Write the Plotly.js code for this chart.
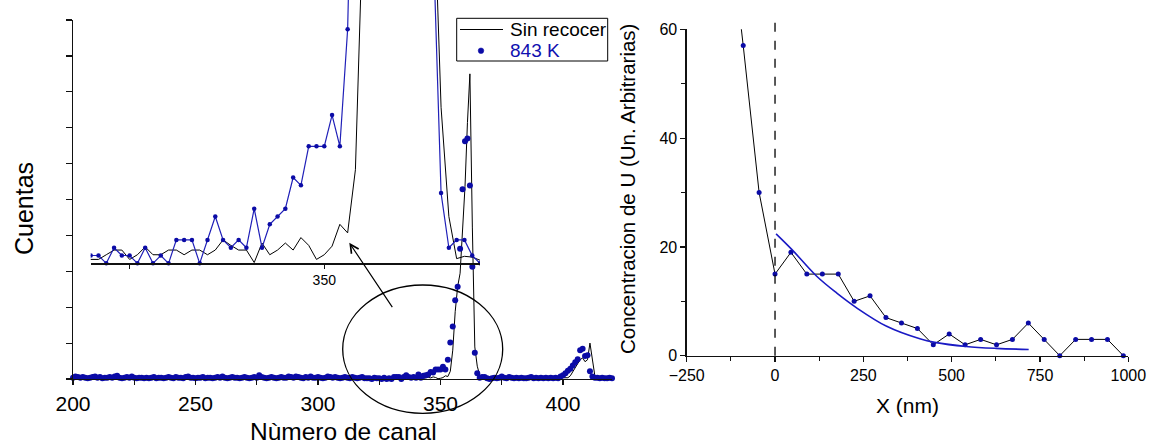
<!DOCTYPE html>
<html><head><meta charset="utf-8">
<script src="https://cdn.plot.ly/plotly-3.0.1.min.js"></script>
<style>body{margin:0;background:#fff}#chart{width:1153px;height:446px}</style>
</head><body><div id="chart"></div>
<script>
// ---------- DATA ----------
// channel numbers 200..420 (one value per channel)
const channelFirst = 200, channelLast = 420;
// 843 K spectrum (counts per channel, 200..420)
const counts843K = [
 2,4,3,2,3,2,1,2,3,4,
 2,3,1,2,2,3,2,4,5,2,
 1,2,3,2,4,2,1,2,2,1,
 2,1,2,3,1,2,2,1,2,3,
 2,1,3,2,2,1,3,4,2,2,
 1,2,2,3,1,2,2,1,2,3,
 2,4,2,1,2,3,2,2,1,2,
 3,2,1,2,3,2,6,3,2,1,
 2,3,2,1,2,3,2,2,4,3,
 2,4,3,2,1,3,2,4,2,2,
 3,2,1,2,4,3,2,3,2,1,
 2,3,2,1,3,2,1,2,3,1,
 1,1,0,2,1,1,0,2,0,1,
 0,3,3,3,0,3,6,3,2,3,
 2,7,2,5,6,7,11,10,15,15,
 15,19,15,30,57,82,123,144,203,296,
 371,375,302,175,41,9,2,3,3,1,
 0,1,2,1,2,4,2,1,3,2,
 1,2,1,2,1,1,2,3,1,2,
 1,2,1,2,1,2,1,2,1,4,
 6,9,13,16,21,26,31,45,47,36,
 37,12,4,2,2,1,2,1,1,2,
 1];
// "Sin recocer" spectrum (counts per channel, 200..420)
const countsSinRecocer = [
 1,1,2,1,1,2,1,1,2,1,
 1,2,1,1,2,1,1,2,1,1,
 2,1,1,2,1,1,1,2,1,1,
 2,1,1,1,2,1,1,2,1,1,
 1,2,1,1,2,1,1,1,2,1,
 1,2,1,1,1,2,1,1,2,1,
 1,1,2,1,1,2,1,1,1,2,
 1,1,2,1,1,1,2,1,1,2,
 1,1,1,2,1,1,2,1,1,1,
 2,1,1,2,1,1,1,2,1,1,
 2,1,1,1,2,1,1,2,1,1,
 1,2,1,1,2,1,1,1,2,1,
 0.5,0.5,1.1,1.7,1.7,0.5,1.1,2.1,1.1,1.1,
 1.7,1.7,1.1,1.7,1.7,1.1,1.7,3.0,2.3,1.7,
 1.7,0.1,2.6,1.1,1.7,2.6,1.7,3.3,2.3,0.5,
 1.1,2.2,5.0,3.9,12,45,105,144,165,230,
 300,400,476,237,50,20,6,0.6,0.9,0.8,
 0.4,1,1,1,1,1,1,1,1,1,
 1,1,1,1,1,1,1,1,1,1,
 1,1,1,1,1,1,1,1,1,1,
 1,1,2,5,12,18,24,30,33,27,
 30,56,30,5,1,1,1,1,1,1,
 1];
const mainTickVals = [200,250,300,350,400];
const mainMinorVals = [225,275,325,375];
const insetTickVals = [350];
const insetMinorVals = [325];
const legendNames = ['Sin recocer', '843 K'];

// Depth profile (right panel)
const depthX = [-134,-90,-45,0,45,90,134,179,224,269,314,358,403,448,493,538,582,627,672,717,762,806,851,896,941,986];
const concU  = [82,57,30,15,19,15,15,15,10,11,7,6,5,2,4,2,3,2,3,6,3,0,3,3,3,0];
// fitted curve, points
const fitX = [3,48,118,175,231,316,410,452,541,626,718];
const fitY = [22.4,19.5,14.6,11.5,8.8,5.4,3.1,2.45,1.7,1.35,1.15];
const depthTicks = [-250,0,250,500,750,1000];
const concTicks = [0,20,40,60];
const concMinor = [10,30,50];

// ---------- LAYOUT HELPERS ----------
const W=1153,H=446;
const fx=p=>p/W, fy=p=>1-p/H;
const FONT='Liberation Sans, Arial, sans-serif';
const BLUE='#0b0ba6', BLUEL='#2020b8', BLACK='#000';

const channels = counts843K.map((_,i)=>channelFirst+i);

const traces = [
  // main spectrum
  {x:channels, y:countsSinRecocer, xaxis:'x', yaxis:'y', mode:'lines', name:legendNames[0],
   line:{color:BLACK,width:1}},
  {x:channels, y:counts843K, xaxis:'x', yaxis:'y', mode:'markers', name:legendNames[1],
   marker:{color:BLUE,size:6}, cliponaxis:false},
  // inset (zoom of channels 320-370)
  {x:channels, y:countsSinRecocer, xaxis:'x2', yaxis:'y2', mode:'lines',
   line:{color:BLACK,width:1}},
  {x:channels, y:counts843K, xaxis:'x2', yaxis:'y2', mode:'lines+markers',
   line:{color:BLUEL,width:1.2}, marker:{color:BLUE,size:4.5}},
  // depth profile
  {x:depthX, y:concU, xaxis:'x3', yaxis:'y3', mode:'lines',
   line:{color:BLACK,width:1}},
  {x:depthX.slice(1), y:concU.slice(1), xaxis:'x3', yaxis:'y3', mode:'markers',
   marker:{color:BLUE,size:5}, cliponaxis:false},
  {x:fitX, y:fitY, xaxis:'x3', yaxis:'y3', mode:'lines', line:{color:'#1a1ac4',width:1.6,shape:'spline'}}
];

const axBase = {showgrid:false, zeroline:false, showline:true, linecolor:'#111', linewidth:1.3,
  ticks:'outside', tickcolor:'#111', tickwidth:1.2, color:'#000'};

const layout = {
  width:W, height:H, margin:{l:0,r:0,t:0,b:0}, paper_bgcolor:'#fff', plot_bgcolor:'rgba(0,0,0,0)',
  font:{family:FONT, color:'#000'},
  showlegend:false,
  xaxis:Object.assign({}, axBase, {domain:[fx(73),fx(612)], range:[channelFirst,channelLast], anchor:'y',
    tickmode:'array', tickvals:mainTickVals, ticklen:5, tickfont:{size:21},
    minor:{tickmode:'array', tickvals:mainMinorVals, ticks:'outside', ticklen:5, tickcolor:'#111'}}),
  yaxis:Object.assign({}, axBase, {domain:[fy(379),fy(20)], range:[0,560], anchor:'x',
    tickmode:'linear', tick0:0, dtick:56, ticklen:6, showticklabels:false}),
  xaxis2:Object.assign({}, axBase, {domain:[fx(90.7),fx(480)], range:[320,370], anchor:'free', position:fy(263.3),
    linewidth:1.2, tickmode:'array', tickvals:insetTickVals, ticklen:4, tickfont:{size:14},
    minor:{tickmode:'array', tickvals:insetMinorVals, ticks:'outside', ticklen:4, tickcolor:'#111'}}),
  yaxis2:{domain:[fy(268),1], range:[-0.6,33.76], anchor:'x2', visible:false, showgrid:false, zeroline:false},
  xaxis3:Object.assign({}, axBase, {domain:[fx(686.7),fx(1128.3)], range:[-250,1000], anchor:'y3',
    tickmode:'array', tickvals:depthTicks, ticklen:5, tickfont:{size:16},
    minor:{tickmode:'linear', tick0:-125, dtick:250, ticks:'outside', ticklen:4, tickcolor:'#111'}}),
  yaxis3:Object.assign({}, axBase, {domain:[fy(355.7),fy(29.3)], range:[0,60], anchor:'x3',
    tickmode:'array', tickvals:concTicks, ticklen:5, tickfont:{size:16},
    minor:{tickmode:'array', tickvals:concMinor, ticks:'outside', ticklen:4, tickcolor:'#111'}}),
  shapes:[
    {type:'circle', xref:'paper', yref:'paper', x0:fx(342.7), x1:fx(502.7), y0:fy(413.3), y1:fy(285),
     line:{color:'#000', width:1.3}},
    {type:'line', xref:'x3', yref:'paper', x0:0, x1:0, y0:fy(355.7), y1:fy(22.7),
     line:{color:'#000', width:1.3, dash:'dash'}},
    // legend box
    {type:'rect', xref:'paper', yref:'paper', x0:fx(456.7), x1:fx(607.7), y0:fy(61), y1:fy(18.3),
     line:{color:'#000', width:1}, fillcolor:'#fff', layer:'above'},
    {type:'line', xref:'paper', yref:'paper', x0:fx(460), x1:fx(503), y0:fy(29.5), y1:fy(29.5),
     line:{color:'#000', width:1}},
    {type:'circle', xref:'paper', yref:'paper', x0:fx(478.2), x1:fx(483.8), y0:fy(53.5), y1:fy(47.9),
     line:{color:BLUE, width:0.5}, fillcolor:BLUE}
  ],
  annotations:[
    {text:'Nùmero de canal', xref:'paper', yref:'paper', x:fx(343), y:fy(431), showarrow:false,
     xanchor:'center', yanchor:'middle', font:{size:24.5}},
    {text:'Cuentas', xref:'paper', yref:'paper', x:fx(24), y:fy(209), showarrow:false, textangle:-90,
     xanchor:'center', yanchor:'middle', font:{size:25}},
    {text:'Concentracion de U (Un. Arbitrarias)', xref:'paper', yref:'paper', x:fx(627), y:fy(189),
     showarrow:false, textangle:-90, xanchor:'center', yanchor:'middle', font:{size:20.5}},
    {text:'X (nm)', xref:'paper', yref:'paper', x:fx(907.5), y:fy(405), showarrow:false,
     xanchor:'center', yanchor:'middle', font:{size:21}},
    {text:'', xref:'paper', yref:'paper', x:fx(349.3), y:fy(242.7), ax:44, ay:66, showarrow:true,
     arrowhead:5, arrowsize:1.4, arrowwidth:1.2, arrowcolor:'#000'},
    {text:legendNames[0], xref:'paper', yref:'paper', x:fx(508), y:fy(29.5), showarrow:false,
     xanchor:'left', yanchor:'middle', font:{size:19, color:'#000'}},
    {text:legendNames[1], xref:'paper', yref:'paper', x:fx(508), y:fy(50.7), showarrow:false,
     xanchor:'left', yanchor:'middle', font:{size:19, color:'#1010b0'}}
  ]
};

Plotly.newPlot('chart', traces, layout, {staticPlot:true, displayModeBar:false});
</script></body></html>
